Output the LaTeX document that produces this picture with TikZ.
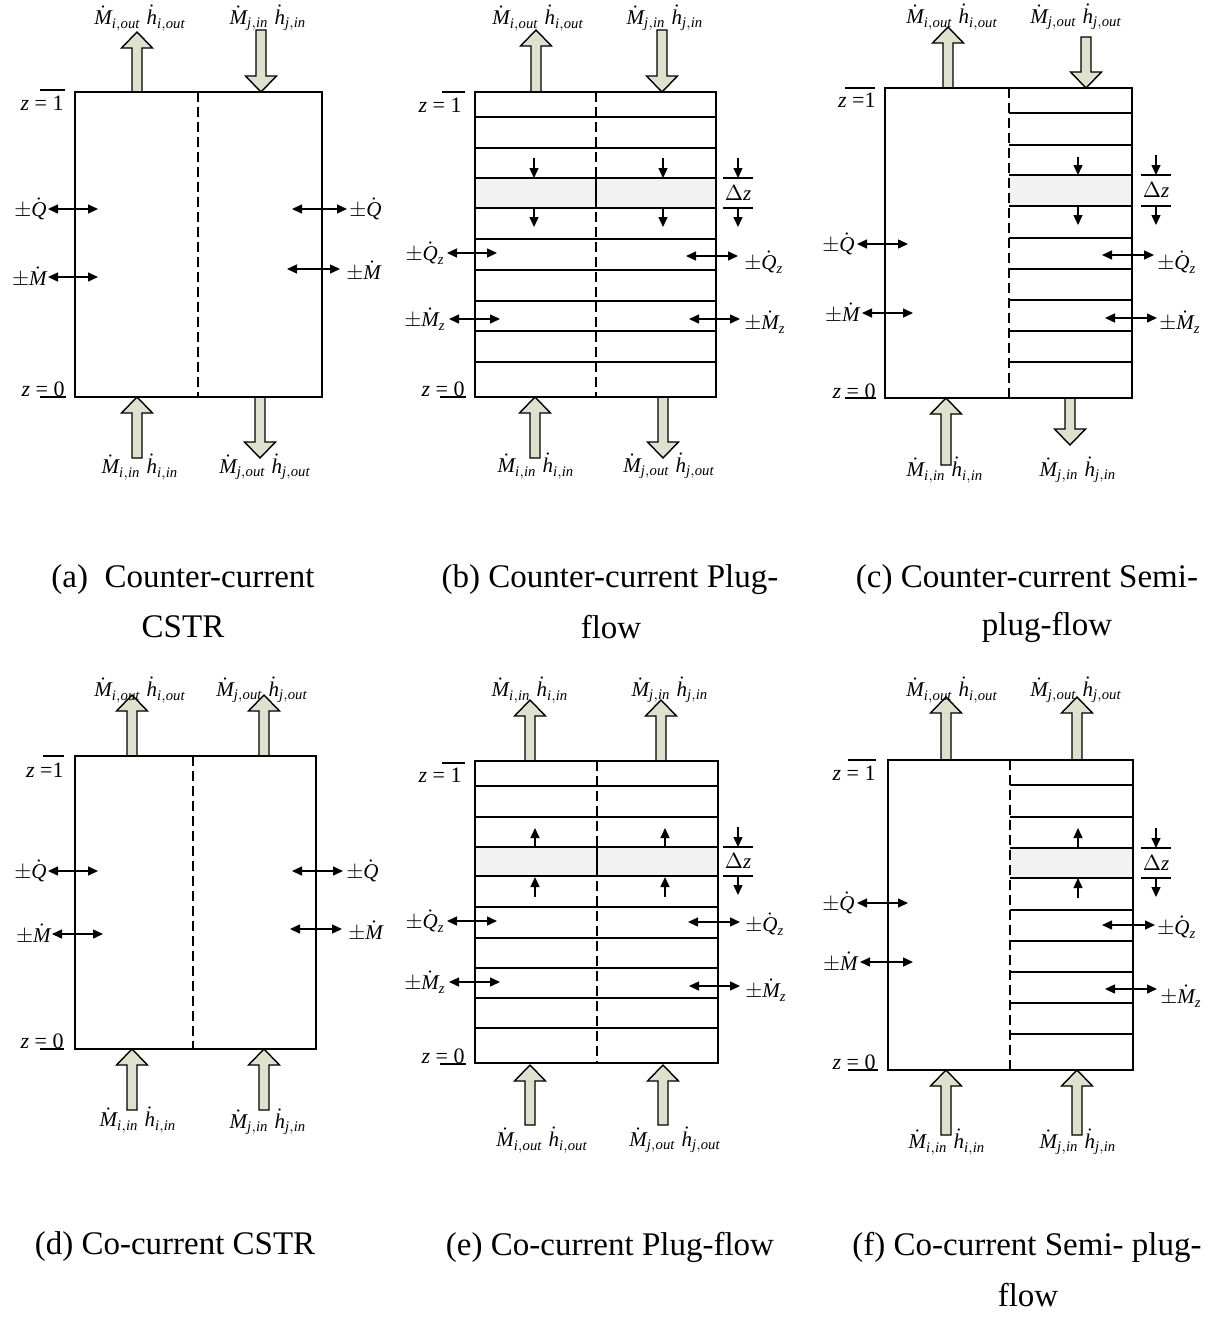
\documentclass[tikz,border=0pt]{standalone}
\usepackage{fontspec}
\setmainfont{Liberation Serif}
\usetikzlibrary{arrows.meta}
\definecolor{flowfill}{RGB}{222,225,205}
\definecolor{bandfill}{RGB}{242,242,242}
\newcommand\Md{\dot{\mathit{M}}}
\newcommand\hd{\dot{\mathit{h}}}
\newcommand\Qd{\dot{\mathit{Q}}}
\newcommand\fl[1]{$\Md_{\mathit{#1}}\;\hd_{\mathit{#1}}$}
\newcommand\bigarrow[3]{% x, tail y, tip y
  \pgfmathsetmacro\hb{#3+((#3>#2)?-16:16)}
  \draw[flow] (#1-5,#2) -- (#1-5,\hb) -- (#1-15.5,\hb) -- (#1,#3) -- (#1+15.5,\hb) -- (#1+5,\hb) -- (#1+5,#2) -- cycle;}
\newcommand\deltaz[4]{% name, x, top y, bottom y
  \coordinate (#1t) at (#2,#3);
  \coordinate (#1b) at (#2,#4);
  \draw[sgl] (#2,#3-20) -- (#1t);
  \draw[frame] (#2-15,#3) -- (#2+15,#3);
  \node[lbl] (#1) at (#2,{(#3+#4)/2}) {$\Delta\mathit{z}$};
  \draw[frame] (#2-15,#4) -- (#2+15,#4);
  \draw[sgl] (#1b) -- (#2,#4+19);}
\tikzset{
  x=0.5pt, y=-0.5pt,
  frame/.style={line width=0.75pt},
  sep/.style={line width=0.75pt, dash pattern=on 5pt off 2.5pt},
  flow/.style={fill=flowfill, draw=black, line width=0.7pt, line join=miter},
  dbl/.style={line width=0.7pt, {Triangle[length=5pt,width=4.5pt]}-{Triangle[length=5pt,width=4.5pt]}},
  sgl/.style={line width=0.7pt, -{Triangle[length=5pt,width=4.5pt]}},
  lbl/.style={inner sep=0pt, font=\fontsize{10.5}{12}\selectfont},
  zl/.style={inner sep=0pt, anchor=east, font=\fontsize{11}{13}\selectfont},
  captxt/.style={inner sep=0pt, font=\fontsize{16.5}{20}\selectfont},
}
\begin{document}
\begin{tikzpicture}
\useasboundingbox (0,0) rectangle (1208,1317);

% ================= (a) =================
\bigarrow{137}{92}{32}
\bigarrow{261}{30}{92}
\bigarrow{137}{458}{397}
\bigarrow{260}{397}{458}
\draw[frame] (75,92) rectangle (322,397);
\draw[sep] (198,92) -- (198,397);
\node[lbl] (at1) at (140,18) {\fl{i,out}};
\node[lbl] (at2) at (268,18) {\fl{j,in}};
\node[lbl] (ab1) at (140,467) {\fl{i,in}};
\node[lbl] (ab2) at (265,467) {\fl{j,out}};
\node[zl] (az1) at (64,103) {\textit{z} = 1};
\draw[frame] (40,90) -- (65,90);
\node[zl] (az0) at (65,389) {\textit{z} = 0};
\draw[frame] (40,397) -- (66,397);
\node[lbl,anchor=east] (aq1) at (47,209) {$\pm\Qd$};
\draw[dbl] (48,209) -- (98,209);
\node[lbl,anchor=east] (am1) at (47,277) {$\pm\Md$};
\draw[dbl] (48,277) -- (98,277);
\node[lbl,anchor=west] (aq2) at (349,209) {$\pm\Qd$};
\draw[dbl] (292,209) -- (347,209);
\node[lbl,anchor=west] (am2) at (346,271) {$\pm\Md$};
\draw[dbl] (287,269) -- (340,269);

% ================= (b) =================
\bigarrow{536}{92}{30}
\bigarrow{662}{30}{92}
\bigarrow{535}{458}{397}
\bigarrow{663}{397}{458}
\fill[bandfill] (475,178) rectangle (716,208);
\foreach \yy in {117,148,178,208,239,270,301,331,362}
  \draw[frame] (475,\yy) -- (716,\yy);
\draw[frame] (475,92) rectangle (716,397);
\draw[sep] (596,92) -- (596,397);
\draw[frame] (596,178) -- (596,208);
\node[lbl] (bt1) at (538,18) {\fl{i,out}};
\node[lbl] (bt2) at (665,18) {\fl{j,in}};
\node[lbl] (bb1) at (536,466) {\fl{i,in}};
\node[lbl] (bb2) at (669,466) {\fl{j,out}};
\node[zl] (bz1) at (462,105) {\textit{z} = 1};
\draw[frame] (442,92) -- (465,92);
\node[zl] (bz0) at (465,389) {\textit{z} = 0};
\draw[frame] (440,397) -- (466,397);
\draw[sgl] (534,158) -- (534,178);
\draw[sgl] (663,158) -- (663,178);
\draw[sgl] (534,208) -- (534,227);
\draw[sgl] (663,208) -- (663,227);
\deltaz{bdz}{738}{178}{208}
\node[lbl,anchor=east] (bq1) at (445,253) {$\pm\Qd_{\mathit{z}}$};
\draw[dbl] (447,253) -- (497,253);
\node[lbl,anchor=east] (bm1) at (446,319) {$\pm\Md_{\mathit{z}}$};
\draw[dbl] (449,319) -- (500,319);
\node[lbl,anchor=west] (bq2) at (744,262) {$\pm\Qd_{\mathit{z}}$};
\draw[dbl] (686,256) -- (738,256);
\node[lbl,anchor=west] (bm2) at (744,322) {$\pm\Md_{\mathit{z}}$};
\draw[dbl] (689,319) -- (740,319);

% ================= (c) =================
\bigarrow{948}{88}{27}
\bigarrow{1086}{37}{88}
\bigarrow{946}{465}{398}
\bigarrow{1070}{398}{445}
\fill[bandfill] (1009,175) rectangle (1132,206);
\foreach \yy in {113,145,175,206,238,269,300,331,362}
  \draw[frame] (1009,\yy) -- (1132,\yy);
\draw[frame] (885,88) rectangle (1132,398);
\draw[sep] (1009,88) -- (1009,398);
\node[lbl] (ct1) at (952,17) {\fl{i,out}};
\node[lbl] (ct2) at (1076,17) {\fl{j,out}};
\node[lbl] (cb1) at (945,470) {\fl{i,in}};
\node[lbl] (cb2) at (1078,470) {\fl{j,in}};
\node[zl] (cz1) at (876,100) {\textit{z} =1};
\draw[frame] (845,88) -- (875,88);
\node[zl] (cz0) at (876,391) {\textit{z} = 0};
\draw[frame] (845,398) -- (876,398);
\draw[sgl] (1078,157) -- (1078,175);
\draw[sgl] (1078,206) -- (1078,225);
\deltaz{cdz}{1156}{175}{206}
\node[lbl,anchor=east] (cq1) at (855,244) {$\pm\Qd$};
\draw[dbl] (857,244) -- (908,244);
\node[lbl,anchor=east] (cm1) at (860,313) {$\pm\Md$};
\draw[dbl] (862,313) -- (913,313);
\node[lbl,anchor=west] (cq2) at (1157,262) {$\pm\Qd_{\mathit{z}}$};
\draw[dbl] (1102,255) -- (1154,255);
\node[lbl,anchor=west] (cm2) at (1159,322) {$\pm\Md_{\mathit{z}}$};
\draw[dbl] (1105,318) -- (1157,318);

% ================= (d) =================
\bigarrow{132}{756}{695}
\bigarrow{264}{756}{695}
\bigarrow{132}{1110}{1049}
\bigarrow{264}{1110}{1049}
\draw[frame] (75,756) rectangle (316,1049);
\draw[sep] (193,756) -- (193,1049);
\node[lbl] (dt1) at (140,690) {\fl{i,out}};
\node[lbl] (dt2) at (262,690) {\fl{j,out}};
\node[lbl] (db1) at (138,1120) {\fl{i,in}};
\node[lbl] (db2) at (268,1122) {\fl{j,in}};
\node[zl] (dz1) at (64,770) {\textit{z} =1};
\draw[frame] (43,756) -- (64,756);
\node[zl] (dz0) at (64,1041) {\textit{z} = 0};
\draw[frame] (40,1049) -- (64,1049);
\node[lbl,anchor=east] (dq1) at (47,871) {$\pm\Qd$};
\draw[dbl] (48,871) -- (98,871);
\node[lbl,anchor=east] (dm1) at (51,934) {$\pm\Md$};
\draw[dbl] (52,934) -- (103,934);
\node[lbl,anchor=west] (dq2) at (346,871) {$\pm\Qd$};
\draw[dbl] (292,871) -- (343,871);
\node[lbl,anchor=west] (dm2) at (348,931) {$\pm\Md$};
\draw[dbl] (290,929) -- (342,929);

% ================= (e) =================
\bigarrow{530}{761}{700}
\bigarrow{661}{761}{700}
\bigarrow{530}{1125}{1065}
\bigarrow{663}{1125}{1065}
\fill[bandfill] (475,847) rectangle (718,876);
\foreach \yy in {786,817,847,876,907,938,968,998,1028}
  \draw[frame] (475,\yy) -- (718,\yy);
\draw[frame] (475,761) rectangle (718,1063);
\draw[sep] (597,761) -- (597,1063);
\draw[frame] (597,847) -- (597,876);
\node[lbl] (et1) at (530,690) {\fl{i,in}};
\node[lbl] (et2) at (670,690) {\fl{j,in}};
\node[lbl] (eb1) at (542,1140) {\fl{i,out}};
\node[lbl] (eb2) at (675,1140) {\fl{j,out}};
\node[zl] (ez1) at (462,775) {\textit{z} = 1};
\draw[frame] (442,763) -- (465,763);
\node[zl] (ez0) at (465,1056) {\textit{z} = 0};
\draw[frame] (440,1064) -- (466,1064);
\draw[sgl] (535,847) -- (535,828);
\draw[sgl] (665,847) -- (665,828);
\draw[sgl] (535,897) -- (535,877);
\draw[sgl] (665,897) -- (665,877);
\deltaz{edz}{738}{847}{876}
\node[lbl,anchor=east] (eq1) at (445,921) {$\pm\Qd_{\mathit{z}}$};
\draw[dbl] (447,921) -- (497,921);
\node[lbl,anchor=east] (em1) at (446,982) {$\pm\Md_{\mathit{z}}$};
\draw[dbl] (449,982) -- (500,982);
\node[lbl,anchor=west] (eq2) at (745,924) {$\pm\Qd_{\mathit{z}}$};
\draw[dbl] (688,922) -- (740,922);
\node[lbl,anchor=west] (em2) at (745,990) {$\pm\Md_{\mathit{z}}$};
\draw[dbl] (689,986) -- (740,986);

% ================= (f) =================
\bigarrow{946}{760}{697}
\bigarrow{1077}{760}{697}
\bigarrow{946}{1135}{1070}
\bigarrow{1077}{1135}{1070}
\fill[bandfill] (1010,848) rectangle (1133,878);
\foreach \yy in {785,817,848,878,910,941,972,1003,1034}
  \draw[frame] (1010,\yy) -- (1133,\yy);
\draw[frame] (888,760) rectangle (1133,1070);
\draw[sep] (1010,760) -- (1010,1070);
\node[lbl] (ft1) at (952,690) {\fl{i,out}};
\node[lbl] (ft2) at (1076,690) {\fl{j,out}};
\node[lbl] (fb1) at (947,1142) {\fl{i,in}};
\node[lbl] (fb2) at (1078,1142) {\fl{j,in}};
\node[zl] (fz1) at (876,773) {\textit{z} = 1};
\draw[frame] (848,760) -- (876,760);
\node[zl] (fz0) at (876,1062) {\textit{z} = 0};
\draw[frame] (848,1070) -- (878,1070);
\draw[sgl] (1078,848) -- (1078,828);
\draw[sgl] (1078,898) -- (1078,878);
\deltaz{fdz}{1156}{848}{878}
\node[lbl,anchor=east] (fq1) at (855,903) {$\pm\Qd$};
\draw[dbl] (857,903) -- (908,903);
\node[lbl,anchor=east] (fm1) at (858,962) {$\pm\Md$};
\draw[dbl] (860,962) -- (913,962);
\node[lbl,anchor=west] (fq2) at (1157,927) {$\pm\Qd_{\mathit{z}}$};
\draw[dbl] (1102,925) -- (1155,925);
\node[lbl,anchor=west] (fm2) at (1160,996) {$\pm\Md_{\mathit{z}}$};
\draw[dbl] (1105,989) -- (1157,989);

% ================= captions =================
\node[captxt] (capa1) at (183,580) {(a)\ \ Counter-current};
\node[captxt] (capa2) at (183,627) {CSTR};
\node[captxt] (capb1) at (610,580) {(b) Counter-current Plug-};
\node[captxt] (capb2) at (611,627) {flow};
\node[captxt] (capc1) at (1027,580) {(c) Counter-current Semi-};
\node[captxt] (capc2) at (1047,627) {plug-flow};
\node[captxt] (capd1) at (175,1247) {(d) Co-current CSTR};
\node[captxt] (cape1) at (610,1247) {(e) Co-current Plug-flow};
\node[captxt] (capf1) at (1027,1247) {(f) Co-current Semi- plug-};
\node[captxt] (capf2) at (1028,1295) {flow};
\end{tikzpicture}
\end{document}
